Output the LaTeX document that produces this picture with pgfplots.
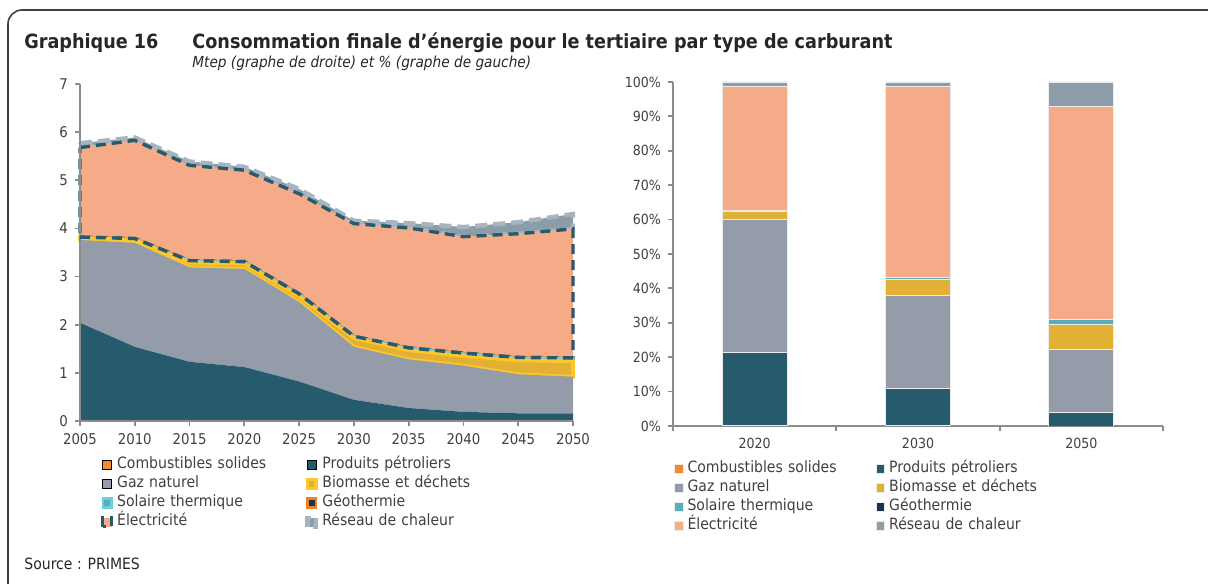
\documentclass[border=0pt]{standalone}
\usepackage{pgfplots}
\pgfplotsset{compat=1.18}
\usepackage{pgfplotstable}
\usepackage{fontspec}
\setmainfont{DejaVu Sans Condensed}

\definecolor{axisgray}{HTML}{8C8C8C}
\definecolor{labelgray}{HTML}{404040}
\definecolor{framegray}{HTML}{404040}
\definecolor{solidc}{HTML}{F28A2E}
\definecolor{petrolc}{HTML}{265B6E}
\definecolor{gazc}{HTML}{939CA8}
\definecolor{bioc}{HTML}{E2B034}
\definecolor{bioborder}{HTML}{FFC629}
\definecolor{solc}{HTML}{56AEBB}
\definecolor{solborder}{HTML}{6FCCDA}
\definecolor{geoc}{HTML}{1B3250}
\definecolor{geoborder}{HTML}{F08020}
\definecolor{elecc}{HTML}{F5AA88}
\definecolor{resc}{HTML}{8A9DA8}
\definecolor{resborder}{HTML}{A8B5C0}

\pgfplotstableread{
year solid petrol gaz bio sol geo elec res
2005 0.02 2.02 1.72 0.04 0.01 0.01 1.86 0.09
2010 0.02 1.52 2.16 0.06 0.02 0.01 2.04 0.06
2015 0.02 1.21 1.96 0.10 0.03 0.01 1.98 0.08
2020 0.01 1.11 2.04 0.11 0.03 0.01 1.90 0.07
2025 0.01 0.81 1.65 0.12 0.04 0.01 2.08 0.10
2030 0.01 0.43 1.10 0.18 0.03 0.01 2.34 0.06
2035 0.01 0.26 1.01 0.19 0.04 0.01 2.49 0.10
2040 0.00 0.19 0.96 0.20 0.05 0.01 2.42 0.20
2045 0.00 0.16 0.81 0.29 0.05 0.01 2.57 0.24
2050 0.00 0.16 0.76 0.32 0.06 0.01 2.68 0.31
}\lefttab

\pgfplotstableread{
x solid petrol gaz bio sol geo elec res
0 0.2 21.3 38.7 2.3 0.2 0.0 36.0 1.3
1 0.1 10.8 27.1 4.7 0.5 0.0 55.5 1.3
2 0.0 3.9 18.4 7.2 1.4 0.1 62.0 7.0
}\righttab

\pgfplotsset{
  common/.style={
    scale only axis,
    anchor=south west,
    axis lines*=left,
    tick align=outside,
    major tick length=2.5pt,
    axis line style={draw=axisgray, line width=0.9pt},
    tick style={draw=axisgray, line width=0.9pt},
    tick label style={font=\fontsize{7}{8}\selectfont, text=labelgray},
    /pgf/number format/assume math mode=true,
    /pgf/number format/1000 sep={},
    legend columns=2,
    legend cell align=left,
    legend style={draw=none, fill=none, inner sep=0pt, outer sep=0pt,
      font=\fontsize{7.8}{8}\selectfont, text=labelgray,
      row sep=0.75pt,
      nodes={inner sep=1pt, text height=5.3pt, text depth=1.5pt, text width=93pt, align=left},
      /tikz/every odd column/.append style={column sep=1pt},
      /tikz/every even column/.append style={column sep=0pt}},
  }
}

\begin{document}
\begin{tikzpicture}
\useasboundingbox (0,0) rectangle (604pt,291.5pt);
\draw[line width=0.8pt, framegray, rounded corners=7pt] (4pt,-2pt) -- (4pt,286.5pt) -- (612pt,286.5pt);

\node[anchor=base west, inner sep=0pt, font=\bfseries\fontsize{9.8}{11}\selectfont, text=black!85] at (12pt,267pt) {Graphique 16};
\node[anchor=base west, inner sep=0pt, font=\bfseries\fontsize{9.8}{11}\selectfont, text=black!85] at (96pt,267pt) {Consommation finale d'énergie pour le tertiaire par type de carburant};
\node[anchor=base west, inner sep=0pt, font=\itshape\fontsize{7.6}{9}\selectfont, text=black!85] at (96pt,257.5pt) {Mtep (graphe de droite) et \% (graphe de gauche)};
\node[anchor=base west, inner sep=0pt, font=\fontsize{7.8}{9}\selectfont, text=black!85] at (12pt,7pt) {Source : PRIMES};

% Left chart
\begin{axis}[common,
  at={(40pt,81pt)},
  width=246.5pt, height=168.5pt,
  xmin=2005, xmax=2050, ymin=0, ymax=7,
  xtick={2005,2010,...,2050}, ytick={0,1,...,7},
  tick label style={font=\fontsize{7.4}{8}\selectfont},
  stack plots=y, area style, clip=false,
  legend style={at={(0.0426,-0.104)}, anchor=north west},
  legend image code/.code={\draw[#1] (0pt,-2.2pt) rectangle (4.4pt,2.2pt);},
]
\addplot[fill=solidc, draw=none] table[x=year,y=solid]{\lefttab} \closedcycle;
\addlegendentry{Combustibles solides}
\addplot[fill=petrolc, draw=none] table[x=year,y=petrol]{\lefttab} \closedcycle;
\addlegendentry{Produits pétroliers}
\addplot[fill=gazc, draw=none] table[x=year,y=gaz]{\lefttab} \closedcycle;
\addlegendentry{Gaz naturel}
\addplot[fill=bioc, draw=bioborder, line width=1.8pt] table[x=year,y=bio]{\lefttab} \closedcycle;
\addlegendentry{Biomasse et déchets}
\addplot[fill=solc, draw=solborder, line width=1.2pt] table[x=year,y=sol]{\lefttab} \closedcycle;
\addlegendentry{Solaire thermique}
\addplot[fill=geoc, draw=geoborder, line width=1.2pt] table[x=year,y=geo]{\lefttab} \closedcycle;
\addlegendentry{Géothermie}
\addplot[fill=elecc, draw=petrolc, line width=1.7pt, dash pattern=on 5pt off 3pt] table[x=year,y=elec]{\lefttab} \closedcycle;
\addlegendentry{Électricité}
\addplot[fill=resc, draw=resborder, line width=2.2pt, dash pattern=on 6pt off 3pt] table[x=year,y=res]{\lefttab} \closedcycle;
\addlegendentry{Réseau de chaleur}
\end{axis}

% overlay: lower dashed border of the electricity area
\begin{axis}[
  scale only axis, anchor=south west, at={(40pt,81pt)},
  width=246.5pt, height=168.5pt,
  xmin=2005, xmax=2050, ymin=0, ymax=7,
  hide axis, clip=false,
]
\addplot[draw=petrolc, line width=1.7pt, dash pattern=on 5pt off 3pt]
  table[x=year, y expr=\thisrow{solid}+\thisrow{petrol}+\thisrow{gaz}+\thisrow{bio}+\thisrow{sol}+\thisrow{geo}]{\lefttab};
\end{axis}

% Right chart
\begin{axis}[common,
  at={(336.5pt,78.5pt)},
  width=245pt, height=172pt,
  xmin=-0.5, xmax=2.5, ymin=0, ymax=100,
  ybar stacked, bar width=32.5pt,
  xtick={-0.5,0.5,1.5,2.5}, xticklabels={2020,2030,2050},
  x tick label as interval,
  ytick={0,10,...,100},
  yticklabels={0\%,10\%,20\%,30\%,40\%,50\%,60\%,70\%,80\%,90\%,100\%},
  legend style={at={(0.002,-0.099)}, anchor=north west},
  legend image code/.code={\fill[#1] (0pt,-2.2pt) rectangle (4.4pt,2.2pt);},
  every axis plot/.append style={draw=white!85!gray, line width=0.4pt},
]
\addplot[fill=solidc] table[x=x,y=solid]{\righttab};
\addlegendentry{Combustibles solides}
\addplot[fill=petrolc] table[x=x,y=petrol]{\righttab};
\addlegendentry{Produits pétroliers}
\addplot[fill=gazc] table[x=x,y=gaz]{\righttab};
\addlegendentry{Gaz naturel}
\addplot[fill=bioc] table[x=x,y=bio]{\righttab};
\addlegendentry{Biomasse et déchets}
\addplot[fill=solc] table[x=x,y=sol]{\righttab};
\addlegendentry{Solaire thermique}
\addplot[fill=geoc] table[x=x,y=geo]{\righttab};
\addlegendentry{Géothermie}
\addplot[fill=elecc] table[x=x,y=elec]{\righttab};
\addlegendentry{Électricité}
\addplot[fill=resc] table[x=x,y=res]{\righttab};
\addlegendentry{Réseau de chaleur}
\end{axis}
\end{tikzpicture}
\end{document}
